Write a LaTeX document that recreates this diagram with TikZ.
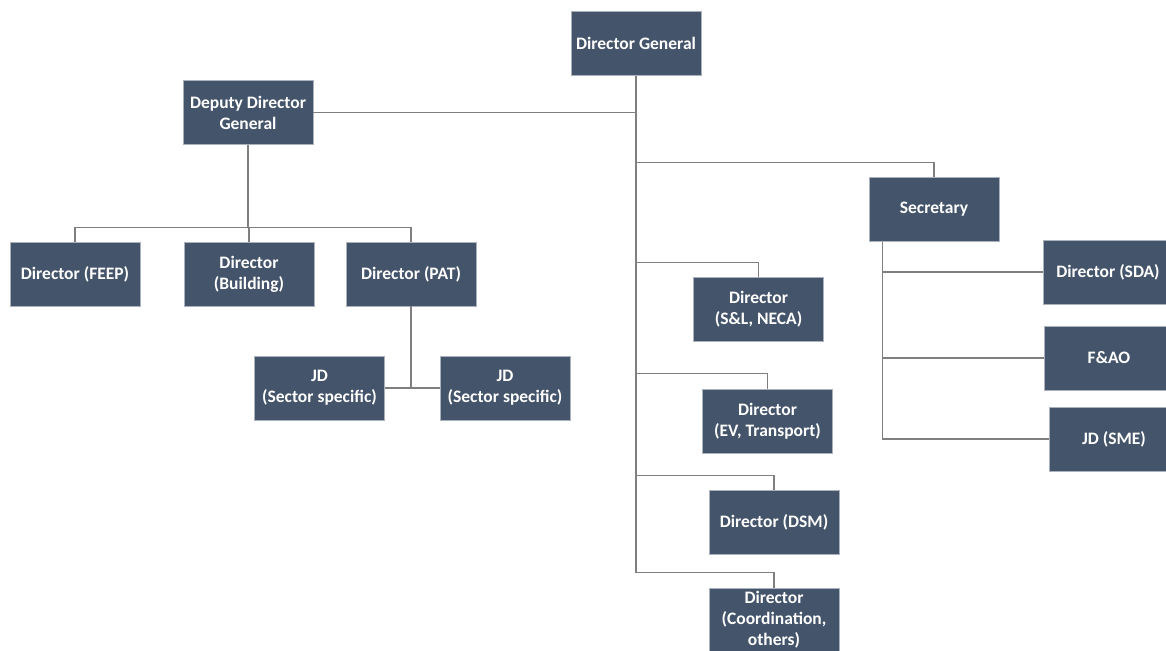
\documentclass[tikz,border=0pt]{standalone}
\usepackage{fontspec}
\setmainfont{Carlito}
\usetikzlibrary{positioning, calc}
\definecolor{sslate}{HTML}{44546A}
\definecolor{sgrey}{HTML}{7F7F7F}
\tikzset{
  post/.style={
    draw=sslate!45!white, fill=sslate, line width=0.6pt, text=white,
    font=\fontsize{17.5}{21}\selectfont\bfseries, align=center,
    minimum width=130pt, minimum height=64pt, inner sep=1pt
  },
  link/.style={draw=sgrey, line width=1.4pt}
}
\begin{document}
\begin{tikzpicture}[x=1pt, y=-1pt]
  \clip (0,0) rectangle (1166,650);
  \fill[white] (0,0) rectangle (1166,650);
  % top of the chart
  \node[post] (dg)   at (636,43.5)  {Director General};
  \node[post] (ddg)  at (248,112.5) {Deputy Director\\General};
  % under the deputy
  \node[post] (feep) at (75,274)    {Director (FEEP)};
  \node[post] (bldg) at (249,274)   {Director\\(Building)};
  \node[post] (pat)  at (411,274)   {Director (PAT)};
  \node[post] (jda)  at (319.5,388) {JD\\(Sector specific)};
  \node[post] (jdb)  at (505,388)   {JD\\(Sector specific)};
  % directly under the DG
  \node[post] (sl)   at (758.5,309.5) {Director\\(S\&L, NECA)};
  \node[post] (ev)   at (767.5,421)   {Director\\(EV, Transport)};
  \node[post] (dsm)  at (774,522.5)   {Director (DSM)};
  \node[post] (crd)  at (774,620)     {Director\\(Coordination,\\others)};
  % secretary side
  \node[post] (sec)  at (934,209.5) {Secretary};
  \node[post] (sda)  at (1108,272)  {Director (SDA)};
  \node[post] (fao)  at (1109,358)  {F\&AO};
  \node[post] (sme)  at (1114,439)  {JD (SME)};

  % connectors
  \foreach \c in {sec, sl, ev, dsm, crd}
    \coordinate (b\c) at ([yshift=15pt]\c.north);
  \draw[link] (dg.south) -- (dg.south |- bcrd);
  \foreach \c in {sec, sl, ev, dsm, crd}
    \draw[link] (dg.south |- b\c) -- (b\c) -- (\c.north);
  \draw[link] (ddg.east) -- (ddg.east -| dg.south);

  \coordinate (dbus) at ([yshift=14pt]bldg.north);
  \draw[link] (ddg.south) -- (ddg.south |- dbus);
  \draw[link] (feep.north) -- (feep.north |- dbus) -- (pat.north |- dbus) -- (pat.north);
  \draw[link] (bldg.north) -- (bldg.north |- dbus);
  \draw[link] (pat.south) -- (pat.south |- jda.east);
  \draw[link] (jda.east) -- (jdb.west);

  \coordinate (stop) at ([xshift=14pt]sec.south west);
  \draw[link] (stop) -- (stop |- sme.west) -- (sme.west);
  \draw[link] (stop |- sda.west) -- (sda.west);
  \draw[link] (stop |- fao.west) -- (fao.west);
\end{tikzpicture}
\end{document}
